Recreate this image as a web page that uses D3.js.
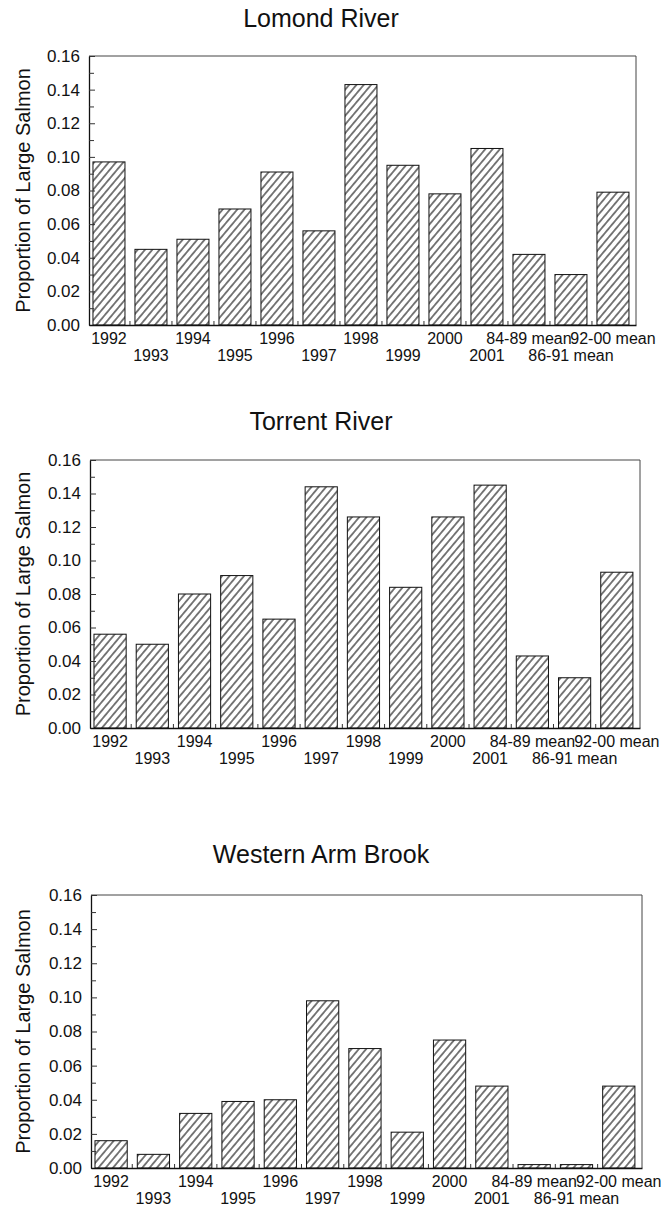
<!DOCTYPE html>
<html>
<head>
<meta charset="utf-8">
<script src="https://cdn.jsdelivr.net/npm/d3@7/dist/d3.min.js"></script>
<style>
  html, body { margin: 0; padding: 0; background: #fff; }
  svg { display: block; }
  text { font-family: "Liberation Sans", Arial, Helvetica, sans-serif; fill: #111; }
</style>
</head>
<body>
<svg id="chart" width="668" height="1216"></svg>
<script>
// Proportion of large salmon by year, three rivers
const categories = ["1992", "1993", "1994", "1995", "1996", "1997", "1998", "1999",
                    "2000", "2001", "84-89 mean", "86-91 mean", "92-00 mean"];
const lomondValues  = [0.097, 0.045, 0.051, 0.069, 0.091, 0.056, 0.143, 0.095, 0.078, 0.105, 0.042, 0.030, 0.079];
const torrentValues = [0.056, 0.050, 0.080, 0.091, 0.065, 0.144, 0.126, 0.084, 0.126, 0.145, 0.043, 0.030, 0.093];
const westernValues = [0.016, 0.008, 0.032, 0.039, 0.040, 0.098, 0.070, 0.021, 0.075, 0.048, 0.002, 0.002, 0.048];
const riverNames = ["Lomond River", "Torrent River", "Western Arm Brook"];
const yTickValues = [0.00, 0.02, 0.04, 0.06, 0.08, 0.10, 0.12, 0.14, 0.16];
const yMinorValues = d3.range(0.01, 0.16, 0.02);
const yAxisTitle = "Proportion of Large Salmon";

const seriesByRiver = [lomondValues, torrentValues, westernValues];

// Page placement of each panel's plotting frame
const frames = [
  { left: 89, right: 636, top: 56,  bottom: 325,  titleY: 27 },
  { left: 90, right: 640, top: 460, bottom: 728,  titleY: 430 },
  { left: 91, right: 642, top: 895, bottom: 1168, titleY: 863 }
];

const svg = d3.select("#chart");

// Diagonal hatching used to fill every bar
const defs = svg.append("defs");
const hatch = defs.append("pattern")
  .attr("id", "hatch")
  .attr("patternUnits", "userSpaceOnUse")
  .attr("width", 5.6)
  .attr("height", 5.6)
  .attr("patternTransform", "rotate(40)");
hatch.append("rect").attr("width", 5.6).attr("height", 5.6).attr("fill", "#fff");
hatch.append("line")
  .attr("x1", 2.8).attr("y1", 0).attr("x2", 2.8).attr("y2", 5.6)
  .attr("stroke", "#111").attr("stroke-width", 1.1);

riverNames.forEach((name, i) => {
  const f = frames[i];
  const values = seriesByRiver[i];

  const x = d3.scaleBand()
    .domain(categories)
    .range([f.left, f.right])
    .paddingInner(0.238)
    .paddingOuter(0.131)
    .align(0.36);

  const y = d3.scaleLinear()
    .domain([0, 0.16])
    .range([f.bottom, f.top]);

  const g = svg.append("g");

  // Title
  g.append("text")
    .attr("x", 321)
    .attr("y", f.titleY)
    .attr("text-anchor", "middle")
    .style("font-size", "25px")
    .text(name);

  // Frame top and right edges
  g.append("path")
    .attr("d", `M${f.left},${f.top}H${f.right}V${f.bottom}`)
    .attr("fill", "none")
    .attr("stroke", "#444")
    .attr("stroke-width", 1);

  // Bars
  g.selectAll("rect.bar")
    .data(values)
    .join("rect")
    .attr("class", "bar")
    .attr("x", (d, j) => x(categories[j]))
    .attr("y", d => y(d))
    .attr("width", x.bandwidth())
    .attr("height", d => y(0) - y(d))
    .attr("fill", "url(#hatch)")
    .attr("stroke", "#111")
    .attr("stroke-width", 1);

  // Y axis: labelled major ticks and minor ticks, both pointing inward
  const yAxis = d3.axisLeft(y)
    .tickValues(yTickValues)
    .tickFormat(d3.format(".2f"))
    .tickSizeInner(-6)
    .tickSizeOuter(0)
    .tickPadding(9);
  const ya = g.append("g")
    .attr("transform", `translate(${f.left},0)`)
    .call(yAxis);
  ya.select(".domain").attr("stroke", "#111").attr("stroke-width", 1.3);
  ya.selectAll(".tick line").attr("stroke", "#333");
  ya.selectAll(".tick text")
    .style("font-size", "17px")
    .style("font-family", "'Liberation Sans', Arial, sans-serif")
    .attr("fill", "#111");

  const yMinor = d3.axisLeft(y)
    .tickValues(yMinorValues)
    .tickFormat("")
    .tickSizeInner(-5)
    .tickSizeOuter(0);
  const ym = g.append("g")
    .attr("transform", `translate(${f.left},0)`)
    .call(yMinor);
  ym.select(".domain").remove();
  ym.selectAll(".tick line").attr("stroke", "#333");

  // X axis baseline with small inward ticks between the bars
  const xa = g.append("g")
    .attr("transform", `translate(0,${f.bottom})`)
    .call(d3.axisBottom(x).tickSize(0).tickFormat(""));
  xa.select(".domain").attr("stroke", "#111").attr("stroke-width", 1.3);
  xa.selectAll(".tick").remove();

  const step = x.step();
  const gap = step - x.bandwidth();
  const boundaries = categories.slice(1).map(c => x(c) - gap / 2);
  g.selectAll("line.xtick")
    .data(boundaries)
    .join("line")
    .attr("class", "xtick")
    .attr("x1", d => d).attr("x2", d => d)
    .attr("y1", f.bottom).attr("y2", f.bottom - 4)
    .attr("stroke", "#333");

  // Category labels, staggered over two rows
  g.selectAll("text.xlab")
    .data(categories)
    .join("text")
    .attr("class", "xlab")
    .attr("x", d => x(d) + x.bandwidth() / 2)
    .attr("y", (d, j) => f.bottom + (j % 2 === 0 ? 19 : 36))
    .attr("text-anchor", "middle")
    .style("font-size", "16px")
    .text(d => d);

  // Y axis title
  g.append("text")
    .attr("transform", `translate(30,${(f.top + f.bottom) / 2}) rotate(-90)`)
    .attr("text-anchor", "middle")
    .style("font-size", "20px")
    .text(yAxisTitle);
});
</script>
</body>
</html>
